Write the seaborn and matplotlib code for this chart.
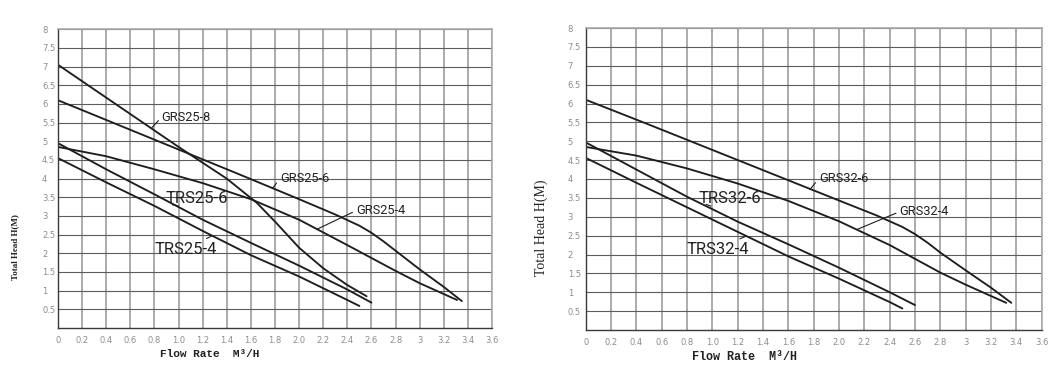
import numpy as np
import pandas as pd
import matplotlib
matplotlib.use("Agg")
import matplotlib.pyplot as plt
import seaborn as sns

# ---------------- data ----------------
x_ticks = [0, 0.2, 0.4, 0.6, 0.8, 1.0, 1.2, 1.4, 1.6, 1.8, 2.0, 2.2, 2.4, 2.6, 2.8, 3.0, 3.2, 3.4, 3.6]
x_tick_labels = ["0", "0.2", "0.4", "0.6", "0.8", "1.0", "1.2", "1.4", "1.6", "1.8",
                 "2.0", "2.2", "2.4", "2.6", "2.8", "3", "3.2", "3.4", "3.6"]
y_ticks = [0.5, 1, 1.5, 2, 2.5, 3, 3.5, 4, 4.5, 5, 5.5, 6, 6.5, 7, 7.5, 8]
y_tick_labels = ["0.5", "1", "1.5", "2", "2.5", "3", "3.5", "4", "4.5", "5", "5.5", "6", "6.5", "7", "7.5", "8"]

# left chart
flow_grs25_8 = [0, 0.5, 1.0, 1.4, 1.65, 1.8, 2.0, 2.2, 2.4, 2.56]
head_grs25_8 = [7.05, 5.95, 4.85, 4.0, 3.35, 2.85, 2.15, 1.6, 1.15, 0.85]
flow_grs25_6 = [0, 0.5, 1.0, 1.5, 2.0, 2.3, 2.5, 2.6, 2.7, 2.8, 3.0, 3.2, 3.35]
head_grs25_6 = [6.1, 5.44, 4.78, 4.12, 3.45, 3.04, 2.74, 2.55, 2.32, 2.07, 1.57, 1.1, 0.72]
flow_grs25_4 = [0, 0.4, 0.8, 1.2, 1.6, 2.0, 2.4, 2.8, 3.0, 3.31]
head_grs25_4 = [4.85, 4.6, 4.25, 3.88, 3.45, 2.9, 2.22, 1.53, 1.2, 0.75]
flow_trs25_6 = [0, 0.4, 0.8, 1.2, 1.6, 2.0, 2.4, 2.6]
head_trs25_6 = [4.95, 4.25, 3.58, 2.9, 2.28, 1.67, 1.03, 0.68]
flow_trs25_4 = [0, 0.4, 0.8, 1.2, 1.6, 2.0, 2.4, 2.5]
head_trs25_4 = [4.55, 3.9, 3.27, 2.6, 1.95, 1.38, 0.75, 0.59]

# right chart
flow_grs32_6 = [0, 0.5, 1.0, 1.5, 2.0, 2.3, 2.5, 2.6, 2.7, 2.8, 3.0, 3.2, 3.36]
head_grs32_6 = [6.1, 5.44, 4.77, 4.1, 3.43, 3.03, 2.73, 2.54, 2.31, 2.05, 1.58, 1.12, 0.72]
flow_grs32_4 = [0, 0.4, 0.8, 1.2, 1.6, 2.0, 2.4, 2.8, 3.0, 3.32]
head_grs32_4 = [4.85, 4.62, 4.28, 3.88, 3.42, 2.88, 2.25, 1.52, 1.2, 0.72]
flow_trs32_6 = [0, 0.4, 0.8, 1.2, 1.6, 2.0, 2.4, 2.6]
head_trs32_6 = [4.97, 4.25, 3.53, 2.87, 2.27, 1.65, 1.0, 0.66]
flow_trs32_4 = [0, 0.4, 0.8, 1.2, 1.6, 2.0, 2.4, 2.5]
head_trs32_4 = [4.56, 3.9, 3.25, 2.6, 1.95, 1.36, 0.74, 0.57]

left_curves = {"GRS25-8": (flow_grs25_8, head_grs25_8),
               "GRS25-6": (flow_grs25_6, head_grs25_6),
               "GRS25-4": (flow_grs25_4, head_grs25_4),
               "TRS25-6": (flow_trs25_6, head_trs25_6),
               "TRS25-4": (flow_trs25_4, head_trs25_4)}
right_curves = {"GRS32-6": (flow_grs32_6, head_grs32_6),
                "GRS32-4": (flow_grs32_4, head_grs32_4),
                "TRS32-6": (flow_trs32_6, head_trs32_6),
                "TRS32-4": (flow_trs32_4, head_trs32_4)}

# curve label annotations: text, point on curve, text anchor
left_labels = [("GRS25-8", (0.777, 5.36), (0.86, 5.65)),
               ("GRS25-6", (1.78, 3.74), (1.84, 4.0)),
               ("GRS25-4", (2.145, 2.64), (2.47, 3.14)),
               ("TRS25-6", (0.95, 3.3), (0.895, 3.47)),
               ("TRS25-4", (1.28, 2.47), (0.80, 2.11))]
right_labels = [("GRS32-6", (1.77, 3.72), (1.84, 4.01)),
                ("GRS32-4", (2.14, 2.66), (2.475, 3.13)),
                ("TRS32-6", (0.95, 3.33), (0.89, 3.48)),
                ("TRS32-4", (1.27, 2.49), (0.80, 2.13))]

# ---------------- drawing ----------------
sns.set_style("white")
plt.rcParams["font.family"] = ["DejaVu Sans"]

W, H = 1058, 379
fig = plt.figure(figsize=(W / 100, H / 100), dpi=100)
axL = fig.add_axes([58 / W, 1 - 328 / H, (492 - 58) / W, (328 - 29.3) / H])
axR = fig.add_axes([585.7 / W, 1 - 330 / H, (1041.7 - 585.7) / W, (330 - 28) / H])

LINE = "#1e1e1e"
HGRID = "#5c5c5c"
VGRID = "#ababab"


def style(ax, ypad):
    ax.set_xlim(0, 3.6)
    ax.set_ylim(0, 8)
    ax.set_xticks(x_ticks)
    ax.set_xticklabels(x_tick_labels, fontsize=6, color="#8c8c8c")
    ax.set_yticks(y_ticks)
    ax.set_yticklabels(y_tick_labels, fontsize=6, color="#8c8c8c")
    for t in ax.get_yticklabels():
        t.set_horizontalalignment("left")
    ax.tick_params(axis="both", length=0)
    ax.tick_params(axis="y", pad=ypad)
    ax.tick_params(axis="x", pad=6)
    ax.grid(True, axis="y", color=HGRID, lw=0.8)
    ax.grid(True, axis="x", color=VGRID, lw=1.4)
    ax.set_axisbelow(True)
    for s in ["top", "right"]:
        ax.spines[s].set_color(VGRID)
        ax.spines[s].set_linewidth(1.2)
    for s in ["left", "bottom"]:
        ax.spines[s].set_color("#3a3a3a")
        ax.spines[s].set_linewidth(1.0)
    ax.set_xlabel("")
    ax.set_ylabel("")


def draw(ax, curves, labels):
    for name, (fx, hy) in curves.items():
        df = pd.DataFrame({"flow": fx, "head": hy})
        sns.lineplot(data=df, x="flow", y="head", ax=ax, color=LINE, lw=1.35,
                     sort=False, estimator=None)
    for text, xy, xyt in labels:
        big = text.startswith("TRS")
        if text.startswith("GRS"):
            rel = (0.0, 0.5)
        elif text.endswith("-6"):
            rel = (0.2, 0.0)
        else:
            rel = (0.72, 1.0)
        ax.annotate(text, xy=xy, xytext=xyt, textcoords="data", ha="left", va="center",
                    fontsize=12 if big else 9.3, family=["Roboto", "DejaVu Sans"],
                    color="#222222",
                    arrowprops=dict(arrowstyle="-", lw=0.8, color=LINE, shrinkA=0,
                                    shrinkB=0, relpos=rel))


draw(axL, left_curves, left_labels)
draw(axR, right_curves, right_labels)
style(axL, 11.5)
style(axR, 13)

# axis titles
fig.text(15 / W, 1 - 247 / H, "Total Head H(M)", rotation=90, ha="center", va="center",
         fontsize=6.5, family=["Liberation Serif", "DejaVu Serif"], weight="bold", color="#222222")
fig.text(541.7 / W, 1 - 228 / H, "Total Head H(M)", rotation=90, ha="center", va="center",
         fontsize=10, family=["Liberation Serif", "DejaVu Serif"], color="#222222")
fig.text(160 / W, 1 - 354 / H, "Flow Rate  M³/H", ha="left", va="center",
         fontsize=8, family=["Liberation Mono", "DejaVu Sans Mono"], weight="bold", color="#222222")
fig.text(692 / W, 1 - 357.5 / H, "Flow Rate  M³/H", ha="left", va="center",
         fontsize=8.5, family=["Liberation Mono", "DejaVu Sans Mono"], weight="bold", color="#222222")

fig.savefig("out.png", dpi=100, facecolor="white")
